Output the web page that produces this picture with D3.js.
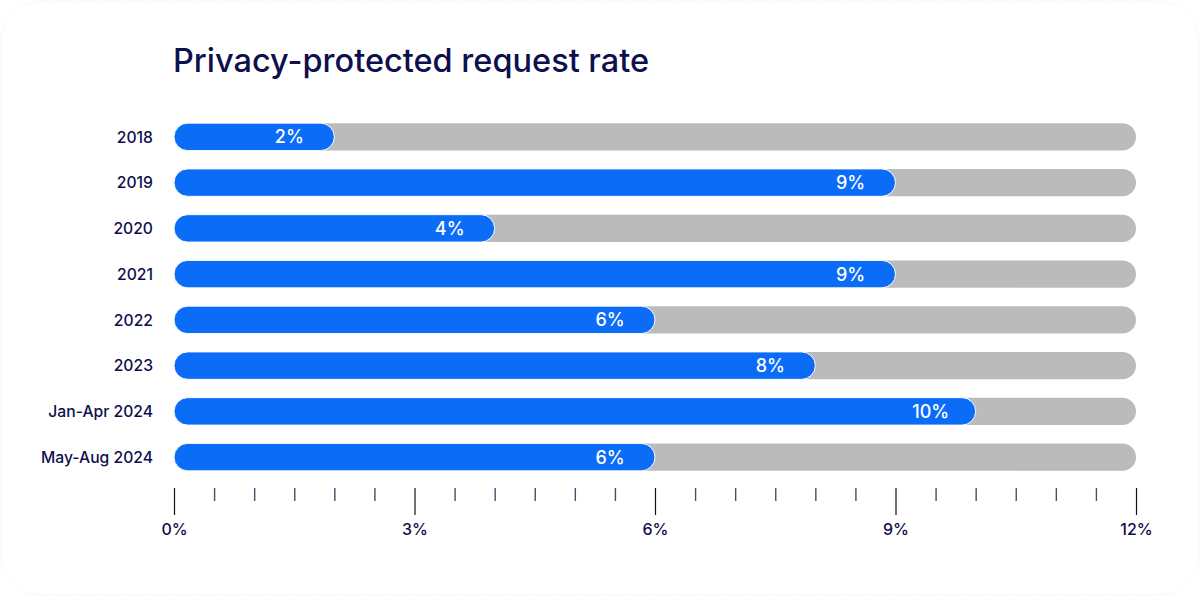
<!DOCTYPE html>
<html>
<head>
<meta charset="utf-8">
<script src="https://cdn.jsdelivr.net/npm/d3@7"></script>
<style>
  html, body { margin: 0; padding: 0; background: #fff; }
  svg { display: block; font-family: Inter, "Noto Sans", sans-serif; }
</style>
</head>
<body>
<svg id="chart" width="1200" height="596"></svg>
<script>
// 数据
const categories = ["2018", "2019", "2020", "2021", "2022", "2023", "Jan-Apr 2024", "May-Aug 2024"];
const rates = [2, 9, 4, 9, 6, 8, 10, 6];
const tickLabels = ["0%", "3%", "6%", "9%", "12%"];
const majorTicks = [0, 3, 6, 9, 12];
const minorTicks = d3.range(0, 12.01, 0.5).filter(v => v % 3 !== 0);

const width = 1200;
const height = 596;
const marginLeft = 174;
const marginRight = 64;
const barTop = 114;
const barBottom = 480;
const axisY = 488;

const navy = "#0e0f4d";
const blue = "#0a6cf7";
const gray = "#bbbbbb";

const svg = d3.select("#chart");

// 卡片背景
svg.append("rect")
    .attr("x", 1).attr("y", 1)
    .attr("width", width - 2).attr("height", height - 2)
    .attr("rx", 40)
    .attr("fill", "#fff")
    .attr("stroke", "#e4e9f2")
    .attr("stroke-dasharray", "1,2");

// 标题
svg.append("text")
    .attr("x", marginLeft - 1)
    .attr("y", 72)
    .attr("fill", navy)
    .attr("font-size", 32.5)
    .attr("font-weight", 500)
    .text("Privacy-protected request rate");

// 比例尺
const x = d3.scaleLinear()
    .domain([0, 12])
    .range([marginLeft, width - marginRight]);

const y = d3.scaleBand()
    .domain(categories)
    .range([barTop, barBottom])
    .paddingInner(0.4)
    .paddingOuter(0.2);

const data = categories.map((c, i) => ({category: c, value: rates[i]}));
const r = y.bandwidth() / 2;

// 灰色背景条
svg.append("g")
  .selectAll("rect")
  .data(data)
  .join("rect")
    .attr("x", x(0))
    .attr("y", d => y(d.category))
    .attr("width", x(12) - x(0))
    .attr("height", y.bandwidth())
    .attr("rx", r)
    .attr("fill", gray);

// 蓝色数值条
svg.append("g")
  .selectAll("rect")
  .data(data)
  .join("rect")
    .attr("x", x(0))
    .attr("y", d => y(d.category))
    .attr("width", d => x(d.value) - x(0))
    .attr("height", y.bandwidth())
    .attr("rx", r)
    .attr("fill", blue)
    .attr("stroke", "#fff")
    .attr("stroke-width", 1);

// 数值标签
svg.append("g")
  .selectAll("text")
  .data(data)
  .join("text")
    .attr("x", d => x(d.value) - 45)
    .attr("y", d => y(d.category) + y.bandwidth() / 2)
    .attr("dy", "0.36em")
    .attr("text-anchor", "middle")
    .attr("fill", "#fff")
    .attr("font-size", 18)
    .attr("font-weight", 500)
    .text(d => d.value + "%");

// 分类标签
svg.append("g")
  .selectAll("text")
  .data(data)
  .join("text")
    .attr("x", 153)
    .attr("y", d => y(d.category) + y.bandwidth() / 2)
    .attr("dy", "0.36em")
    .attr("text-anchor", "end")
    .attr("fill", navy)
    .attr("font-size", 15.7)
    .attr("font-weight", 500)
    .text(d => d.category);

// 次刻度
svg.append("g")
    .attr("transform", `translate(0,${axisY})`)
    .call(d3.axisBottom(x).tickValues(minorTicks).tickSize(13).tickFormat(""))
    .call(g => g.select(".domain").remove())
    .call(g => g.selectAll(".tick line").attr("stroke", "#4a4b70").attr("stroke-width", 1.4));

// 主刻度
svg.append("g")
    .attr("transform", `translate(0,${axisY})`)
    .call(d3.axisBottom(x).tickValues(majorTicks).tickSize(27).tickPadding(9)
      .tickFormat((d, i) => tickLabels[i]))
    .call(g => g.select(".domain").remove())
    .call(g => g.selectAll(".tick line").attr("stroke", "#111").attr("stroke-width", 1.2))
    .call(g => g.selectAll(".tick text")
      .attr("fill", navy)
      .attr("font-size", 16)
      .attr("font-weight", 500)
      .attr("font-family", "Inter, 'Noto Sans', sans-serif"));
</script>
</body>
</html>
